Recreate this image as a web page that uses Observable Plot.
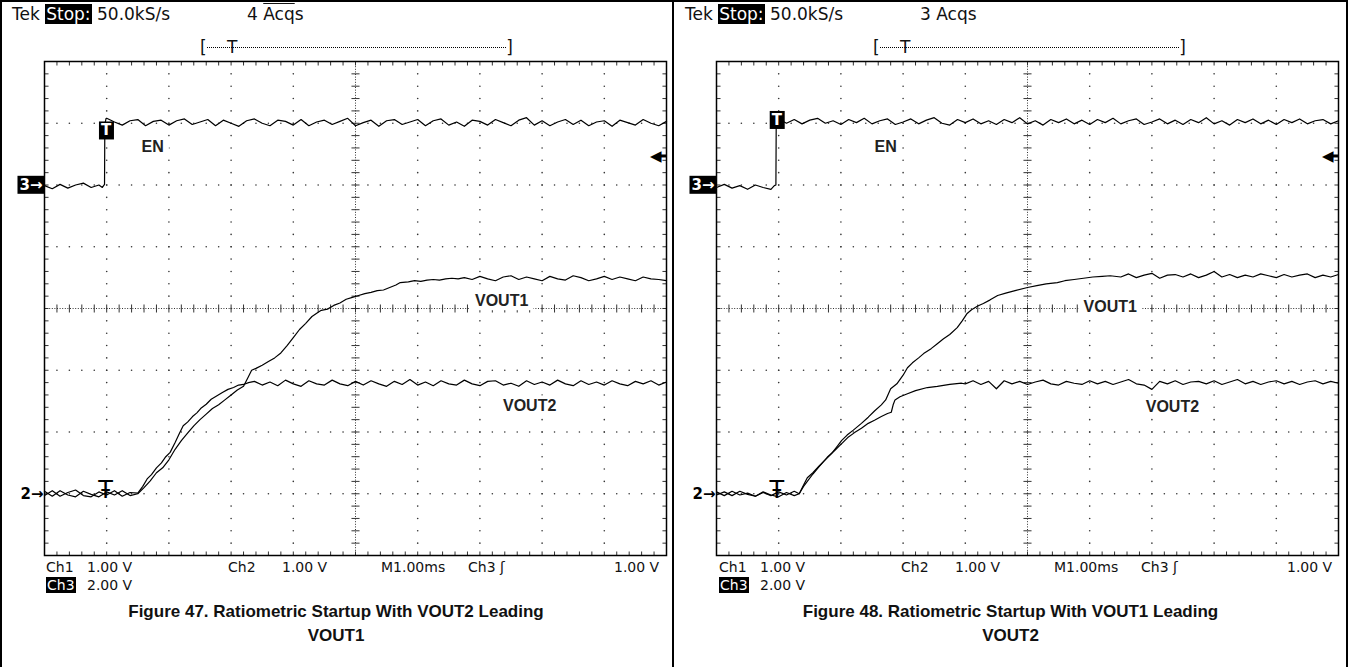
<!DOCTYPE html>
<html>
<head>
<meta charset="utf-8">
<script src="https://cdn.jsdelivr.net/npm/d3@7"></script>
<script src="https://cdn.jsdelivr.net/npm/@observablehq/plot@0.6"></script>
<style>
  html, body { margin: 0; padding: 0; background: #fff; }
  #wrap { position: relative; width: 1348px; height: 667px; overflow: hidden; background: #fff; }
  .abs { position: absolute; white-space: pre; }
  .scope { font-family: "DejaVu Sans", sans-serif; font-size: 14px; line-height: 14px; color: #111; }
  .hdr { font-size: 17px; line-height: 18px; }
  .inv { background: #000; color: #fff; padding: 0 1px; }
  .cap { font-family: "Liberation Sans", Arial, sans-serif; font-weight: bold; font-size: 17px; line-height: 24px; text-align: center; color: #111; }
  .bline { position: absolute; background: #000; }
</style>
</head>
<body>
<div id="wrap"></div>
<script>
// ---------------- DATA (scope divisions: t = time div 0..10, v = vertical div -4..4) ----------------
const DT = 0.125; // spacing of the plateau readings (div)

// Figure 47 — Ratiometric Startup With VOUT2 Leading VOUT1
const f47_EN_low = [1.99, 1.94, 2.01, 1.95, 2.00, 2.03, 1.96, 2.00];           // from t = 0
const f47_EN_edge = [[0.93, 1.96], [0.965, 2.01], [0.97, 2.98], [0.99, 3.08]];
const f47_EN_high = [                                                            // from t = 1.0
  3.08,3.02,2.97,3.04,3.06,2.96,3.03,3.05,2.97,3.04,
  3.07,2.98,3.02,3.06,2.96,3.05,3.00,2.95,3.04,3.07,
  3.00,2.96,3.05,3.03,2.97,3.06,2.96,3.02,3.05,2.98,
  3.03,3.08,2.96,3.01,3.05,2.95,3.04,3.06,2.98,3.02,
  3.06,2.96,3.04,3.07,2.97,3.02,2.95,3.05,3.03,2.97,
  3.06,3.01,2.96,3.05,3.09,2.97,3.04,2.96,3.02,3.06,
  2.98,3.05,2.96,3.02,3.04,2.95,3.05,3.01,2.97,3.06,
  3.00,2.96,3.03];
const f47_V1_base = [-2.96,-3.04,-2.95,-3.02,-3.05,-2.96,-3.01,-3.05,-2.97,-3.02,-2.95,-3.03]; // from t = 0
const f47_V1_rise = [
  [1.5,-3.0],[1.6,-2.90],[1.7,-2.79],[1.8,-2.66],[1.9,-2.58],[2.0,-2.45],[2.1,-2.28],[2.2,-2.14],
  [2.3,-2.02],[2.4,-1.90],[2.5,-1.80],[2.6,-1.71],[2.7,-1.62],[2.8,-1.56],[2.9,-1.48],[3.0,-1.40],
  [3.1,-1.32],[3.2,-1.26],[3.27,-1.12],[3.33,-1.0],[3.4,-0.97],[3.5,-0.92],[3.6,-0.86],[3.7,-0.80],
  [3.8,-0.72],[3.9,-0.60],[4.0,-0.47],[4.1,-0.34],[4.2,-0.24],[4.3,-0.13],[4.4,-0.06],[4.45,-0.03],
  [4.55,-0.01],[4.65,0.05],[4.75,0.09],[4.85,0.15],[4.95,0.18],[5.05,0.21],[5.15,0.24],[5.25,0.26],
  [5.35,0.29],[5.45,0.30],[5.55,0.34],[5.65,0.38],[5.72,0.42],[5.85,0.43],[5.95,0.45],[6.05,0.44],
  [6.15,0.46],[6.25,0.47],[6.35,0.46],[6.45,0.48],[6.55,0.49],[6.65,0.48],[6.75,0.50]];
const f47_V1_flatStart = 6.875;
const f47_V1_flat = [
  0.47,0.52,0.48,0.45,0.51,0.53,0.47,0.51,0.48,0.45,
  0.52,0.48,0.46,0.53,0.50,0.45,0.48,0.52,0.47,0.51,
  0.48,0.45,0.51,0.48,0.47,0.45];
const f47_V2_base = [-3.03,-2.95,-3.04,-2.98,-2.94,-3.03,-3.05,-2.97,-3.02,-2.95,-3.04,-2.98];
const f47_V2_rise = [
  [1.5,-2.99],[1.58,-2.88],[1.65,-2.76],[1.72,-2.69],[1.8,-2.58],[1.88,-2.50],[1.95,-2.40],[2.02,-2.33],
  [2.1,-2.17],[2.17,-2.02],[2.23,-1.90],[2.3,-1.84],[2.38,-1.75],[2.45,-1.69],[2.51,-1.62],[2.6,-1.55],
  [2.68,-1.47],[2.78,-1.41],[2.86,-1.36],[2.95,-1.31],[3.04,-1.28],[3.12,-1.24],[3.2,-1.23],[3.28,-1.20]];
const f47_V2_flatStart = 3.375;
const f47_V2_flat = [
  -1.18,-1.24,-1.19,-1.25,-1.16,-1.22,-1.26,-1.17,-1.22,-1.24,
  -1.16,-1.22,-1.25,-1.18,-1.24,-1.17,-1.22,-1.26,-1.18,-1.23,
  -1.15,-1.24,-1.19,-1.25,-1.17,-1.22,-1.24,-1.16,-1.22,-1.25,
  -1.18,-1.17,-1.24,-1.21,-1.26,-1.17,-1.23,-1.19,-1.24,-1.16,
  -1.22,-1.25,-1.17,-1.23,-1.19,-1.24,-1.17,-1.22,-1.25,-1.18,
  -1.22,-1.17,-1.24,-1.19];
const f47_labels = [{t: 1.74, v: 2.62, label: "EN"}, {t: 7.35, v: 0.12, label: "VOUT1"}, {t: 7.8, v: -1.57, label: "VOUT2"}];
const f47_marks = {ch3Ground: 2.0, ch2Ground: -3.0, trigBox: {t: 0.99, v: 2.88}, trigPos: 0.98, trigLevel: 2.47};

// Figure 48 — Ratiometric Startup With VOUT1 Leading VOUT2
const f48_EN_low = [1.96, 2.01, 1.95, 1.99, 1.93, 2.00, 1.96, 1.93];
const f48_EN_edge = [[0.93, 1.99], [0.955, 2.0], [0.96, 3.0], [0.98, 3.05]];
const f48_EN_high = [
  3.07,3.00,3.06,2.99,3.05,3.08,3.00,3.04,2.98,3.06,
  3.01,3.08,2.99,3.04,3.07,2.98,3.02,3.07,2.99,3.05,
  3.09,3.00,2.97,3.06,3.01,3.07,2.99,3.04,2.98,3.06,
  3.01,3.09,2.99,3.04,2.97,3.06,3.01,3.07,2.99,3.05,
  2.98,3.06,3.01,3.08,2.99,3.04,3.07,2.98,3.02,3.07,
  2.99,3.05,2.98,3.06,3.01,3.09,2.99,3.04,2.97,3.06,
  3.01,3.07,2.99,3.05,2.98,3.06,3.01,3.07,2.99,3.04,
  3.06,2.99,3.04];
const f48_V1_base = [-2.97,-3.03,-2.96,-3.02,-2.99,-3.04,-2.97,-3.02,-3.05,-2.98,-3.03];
const f48_V1_rise = [
  [1.33,-3.0],[1.4,-2.86],[1.46,-2.74],[1.55,-2.66],[1.65,-2.55],[1.74,-2.46],[1.85,-2.35],[1.95,-2.22],
  [2.01,-2.14],[2.1,-2.05],[2.2,-1.97],[2.33,-1.86],[2.44,-1.76],[2.54,-1.66],[2.65,-1.56],[2.72,-1.48],
  [2.8,-1.30],[2.9,-1.22],[3.0,-1.08],[3.07,-0.96],[3.15,-0.88],[3.25,-0.80],[3.33,-0.73],[3.45,-0.65],
  [3.55,-0.57],[3.65,-0.49],[3.75,-0.42],[3.87,-0.31],[3.95,-0.20],[4.03,-0.08],[4.1,-0.02],[4.2,0.04],
  [4.29,0.08],[4.4,0.14],[4.52,0.21],[4.65,0.25],[4.8,0.29],[5.0,0.34],[5.15,0.37],[5.3,0.40],
  [5.48,0.42],[5.6,0.45],[5.75,0.47],[5.9,0.49],[6.05,0.51],[6.2,0.52],[6.33,0.53]];
const f48_V1_flatStart = 6.5;
const f48_V1_flat = [
  0.51,0.56,0.50,0.54,0.57,0.49,0.54,0.55,0.51,0.56,
  0.50,0.54,0.60,0.51,0.55,0.50,0.54,0.51,0.56,0.53,
  0.50,0.55,0.51,0.54,0.56,0.50,0.54,0.51,0.55];
const f48_V2_base = [-3.02,-2.97,-3.03,-2.96,-3.01,-3.04,-2.98,-3.03,-2.97,-3.02,-2.96];
const f48_V2_rise = [
  [1.33,-3.0],[1.4,-2.88],[1.46,-2.80],[1.55,-2.68],[1.65,-2.56],[1.78,-2.41],[1.9,-2.30],[2.0,-2.20],
  [2.11,-2.09],[2.22,-2.01],[2.33,-1.94],[2.44,-1.86],[2.54,-1.81],[2.65,-1.75],[2.75,-1.70],[2.81,-1.68],
  [2.84,-1.56],[2.87,-1.48],[2.95,-1.43],[3.07,-1.38],[3.2,-1.33],[3.39,-1.28],[3.55,-1.26],[3.75,-1.23],
  [3.94,-1.21]];
const f48_V2_flatStart = 4.0;
const f48_V2_flat = [
  -1.22,-1.17,-1.23,-1.18,-1.30,-1.17,-1.22,-1.18,-1.23,-1.19,
  -1.16,-1.22,-1.24,-1.18,-1.21,-1.23,-1.17,-1.22,-1.18,-1.23,
  -1.19,-1.15,-1.22,-1.24,-1.31,-1.18,-1.22,-1.17,-1.23,-1.19,
  -1.18,-1.22,-1.17,-1.23,-1.19,-1.15,-1.22,-1.18,-1.23,-1.19,
  -1.17,-1.22,-1.18,-1.23,-1.19,-1.17,-1.22,-1.18,-1.21];
const f48_labels = [{t: 2.72, v: 2.62, label: "EN"}, {t: 6.33, v: 0.02, label: "VOUT1"}, {t: 7.33, v: -1.59, label: "VOUT2"}];
const f48_marks = {ch3Ground: 2.0, ch2Ground: -3.0, trigBox: {t: 0.97, v: 3.05}, trigPos: 0.97, trigLevel: 2.47};

// Scope text
const acqs = ["4", "3"];
const readout1 = ["Ch1", "1.00 V", "Ch2", "1.00 V", "M1.00ms", "Ch3 ʃ", "1.00 V"];
const readout2 = ["Ch3", "2.00 V"];
const captions = [
  ["Figure 47. Ratiometric Startup With VOUT2 Leading", "VOUT1"],
  ["Figure 48. Ratiometric Startup With VOUT1 Leading", "VOUT2"]
];

// ---------------- BUILD ----------------
const samples = (t0, vals) => vals.map((v, i) => ({t: t0 + i * DT, v}));
const pairs = arr => arr.map(([t, v]) => ({t, v}));
const tag = (s, parts) => parts.flat().map(d => ({...d, s}));

function traces(p) {
  return [
    ...tag("EN", [samples(0, p.enLow), pairs(p.enEdge), samples(1.0, p.enHigh)]),
    ...tag("V1", [samples(0, p.v1Base), pairs(p.v1Rise), samples(p.v1FlatStart, p.v1Flat)]),
    ...tag("V2", [samples(0, p.v2Base), pairs(p.v2Rise), samples(p.v2FlatStart, p.v2Flat)])
  ];
}

// graticule structure (10 x 8 divisions, 5 minor steps per division)
const fineX = d3.range(1, 50).map(i => i / 5);
const fineY = d3.range(1, 40).map(i => -4 + i / 5);
const majorX = [1, 2, 3, 4, 6, 7, 8, 9], majorY = [-3, -2, -1, 1, 2, 3];
const gridDots = [
  ...majorY.flatMap(v => fineX.map(t => ({t, v}))),
  ...majorX.flatMap(t => fineY.map(v => ({t, v})))
];
const tk = 0.065;
const tickSegs = [
  ...fineX.map(t => ({x1: t, x2: t, y1: -tk, y2: tk})),
  ...fineY.map(v => ({x1: 5 - tk, x2: 5 + tk, y1: v, y2: v})),
  ...fineY.map(v => ({x1: 0, x2: tk, y1: v, y2: v})),
  ...fineY.map(v => ({x1: 10 - tk, x2: 10, y1: v, y2: v})),
  ...fineX.map(t => ({x1: t, x2: t, y1: 4 - tk, y2: 4})),
  ...fineX.map(t => ({x1: t, x2: t, y1: -4, y2: -4 + tk}))
];

function scope(p, width, mLeft, mRight) {
  const m = p.marks;
  return Plot.plot({
    width, height: 560,
    marginLeft: mLeft, marginRight: mRight, marginTop: 61, marginBottom: 5,
    x: {domain: [0, 10], axis: null},
    y: {domain: [-4, 4], axis: null},
    style: {background: "transparent", overflow: "visible"},
    marks: [
      Plot.dot(gridDots, {x: "t", y: "v", r: 0.8, fill: "#333", stroke: null}),
      Plot.ruleY([0], {stroke: "#333", strokeDasharray: "1,1.6", strokeWidth: 1}),
      Plot.ruleX([5], {stroke: "#333", strokeDasharray: "1,1.6", strokeWidth: 1}),
      Plot.link(tickSegs, {x1: "x1", y1: "y1", x2: "x2", y2: "y2", stroke: "#333", strokeWidth: 1}),
      Plot.frame({stroke: "#000", strokeWidth: 1.5}),
      Plot.line(traces(p), {x: "t", y: "v", z: "s", stroke: "#000", strokeWidth: 1.2}),
      Plot.text(p.labels, {x: "t", y: "v", text: "label", fontFamily: "Liberation Sans, Arial, sans-serif",
        fontWeight: "bold", fontSize: 16, fill: "#222"}),
      Plot.text([m.ch3Ground], {x: () => 0, y: d => d, text: () => "3→", textAnchor: "end", dx: -2,
        fill: "#fff", fontWeight: "bold", fontSize: 15, fontFamily: "DejaVu Sans"}),
      Plot.text([m.ch2Ground], {x: () => 0, y: d => d, text: () => "2→", textAnchor: "end", dx: -1,
        fill: "#000", fontWeight: "bold", fontSize: 15, fontFamily: "DejaVu Sans"}),
      Plot.text([m.trigBox], {x: "t", y: "v", text: () => "T", fill: "#fff", fontWeight: "bold",
        fontSize: 15, fontFamily: "DejaVu Sans"}),
      Plot.text([m.trigPos], {x: d => d, y: () => m.ch2Ground, text: () => "Ŧ", lineAnchor: "bottom",
        dy: 4, fontSize: 24, fill: "#000", fontFamily: "DejaVu Sans"}),
      Plot.text([m.trigLevel], {x: () => 10, y: d => d, text: () => "◀", textAnchor: "end", dx: -5,
        fontSize: 15, fill: "#000", fontFamily: "DejaVu Sans"}),
      Plot.ruleY([m.trigLevel], {x1: () => 9.86, x2: () => 10, stroke: "#000", strokeWidth: 3})
    ]
  });
}

const BLACK_BOX = new Set(["3→", "T"]);
const WHITE_BOX = new Set(["EN", "VOUT1", "VOUT2"]);
function boxify(svg) {
  svg.querySelectorAll("text").forEach(t => {
    const s = t.textContent;
    let fill = null, px = 0, py = 0;
    if (BLACK_BOX.has(s)) { fill = "#000"; px = 2; py = 0; }
    else if (WHITE_BOX.has(s)) { fill = "#fff"; px = 5; py = 1; }
    if (!fill) return;
    const b = t.getBBox();
    const r = document.createElementNS("http://www.w3.org/2000/svg", "rect");
    r.setAttribute("x", b.x - px); r.setAttribute("y", b.y - py);
    r.setAttribute("width", b.width + 2 * px); r.setAttribute("height", b.height + 2 * py);
    r.setAttribute("fill", fill); r.setAttribute("stroke", "none");
    const tr = t.getAttribute("transform"); if (tr) r.setAttribute("transform", tr);
    t.parentNode.insertBefore(r, t);
  });
}

const wrap = document.getElementById("wrap");
function el(cls, left, top, html, extra) {
  const d = document.createElement("div");
  d.className = "abs " + cls;
  d.style.left = left + "px"; d.style.top = top + "px";
  if (extra) Object.assign(d.style, extra);
  d.innerHTML = html;
  wrap.appendChild(d);
  return d;
}

const panels = [
  {ox: 0, svgLeft: 0, width: 672, mL: 44, mR: 6, acq: acqs[0], overline: true, cap: captions[0],
   data: {enLow: f47_EN_low, enEdge: f47_EN_edge, enHigh: f47_EN_high,
     v1Base: f47_V1_base, v1Rise: f47_V1_rise, v1FlatStart: f47_V1_flatStart, v1Flat: f47_V1_flat,
     v2Base: f47_V2_base, v2Rise: f47_V2_rise, v2FlatStart: f47_V2_flatStart, v2Flat: f47_V2_flat,
     labels: f47_labels, marks: f47_marks}},
  {ox: 673, svgLeft: 674, width: 674, mL: 42, mR: 10, acq: acqs[1], overline: false, cap: captions[1],
   data: {enLow: f48_EN_low, enEdge: f48_EN_edge, enHigh: f48_EN_high,
     v1Base: f48_V1_base, v1Rise: f48_V1_rise, v1FlatStart: f48_V1_flatStart, v1Flat: f48_V1_flat,
     v2Base: f48_V2_base, v2Rise: f48_V2_rise, v2FlatStart: f48_V2_flatStart, v2Flat: f48_V2_flat,
     labels: f48_labels, marks: f48_marks}}
];

const rx1 = [46, 87, 228, 282, 381, 468, 614];
const rx2 = [46, 87];

for (const P of panels) {
  const svg = scope(P.data, P.width, P.mL, P.mR);
  svg.style.position = "absolute";
  svg.style.left = P.svgLeft + "px";
  svg.style.top = "0px";
  wrap.appendChild(svg);
  boxify(svg);

  const o = P.ox;
  el("scope hdr", o + 12, 5, 'Tek <span class="inv">Stop:</span> 50.0kS/s');
  el("scope hdr", o + 247, 5, P.acq + " " + (P.overline ? '<span style="text-decoration:overline">Acq</span>s' : "Acqs"));
  // record bracket
  const br = el("scope hdr", o + 200, 38, "", {width: "313px", height: "18px"});
  br.innerHTML = '<span style="position:absolute;left:0;top:0">[</span>' +
    '<span style="position:absolute;left:7px;right:7px;top:9px;border-top:1px dotted #000"></span>' +
    '<span style="position:absolute;left:27px;top:0">T</span>' +
    '<span style="position:absolute;right:0;top:0">]</span>';
  readout1.forEach((s, i) => el("scope", o + rx1[i], 560, s));
  el("scope", o + rx2[0], 578, '<span class="inv">' + readout2[0] + "</span>");
  el("scope", o + rx2[1], 578, readout2[1]);
  el("cap", o, 600, P.cap.join("<br>"), {width: (P.width + (o ? 1 : 0)) + "px", whiteSpace: "normal"});
}

// outer frame lines
[[0, 0, 1348, 2], [0, 0, 2, 667], [672, 0, 2, 667], [1346, 0, 2, 667]].forEach(([l, t, w, h]) => {
  const d = document.createElement("div");
  d.className = "bline";
  Object.assign(d.style, {left: l + "px", top: t + "px", width: w + "px", height: h + "px"});
  wrap.appendChild(d);
});
</script>
</body>
</html>
